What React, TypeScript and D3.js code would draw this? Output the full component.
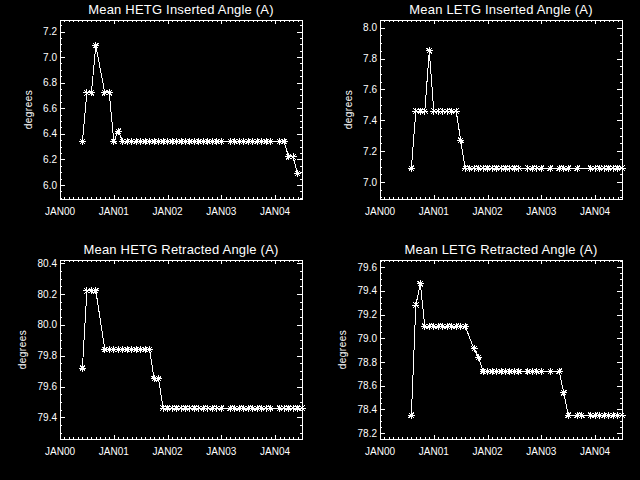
import React from 'react';
import * as d3 from 'd3';

// ---- data (months since JAN 2000, value in degrees) ----
const xTickLabels = ['JAN00', 'JAN01', 'JAN02', 'JAN03', 'JAN04'];
const xMaxYears = 4.5;

const hetgInsMonths = [5, 6, 7, 8, 10, 11, 12, 13, 14, 15, 16, 17, 18, 19, 20, 21, 22, 23, 24, 25, 26, 27, 28, 29, 30, 31, 32, 33, 34, 35, 36, 38, 39, 40, 41, 42, 43, 44, 45, 46, 47, 49, 50, 51, 52, 53];
const hetgInsValues = [6.34, 6.72, 6.72, 7.09, 6.72, 6.72, 6.34, 6.42, 6.34, 6.34, 6.34, 6.34, 6.34, 6.34, 6.34, 6.34, 6.34, 6.34, 6.34, 6.34, 6.34, 6.34, 6.34, 6.34, 6.34, 6.34, 6.34, 6.34, 6.34, 6.34, 6.34, 6.34, 6.34, 6.34, 6.34, 6.34, 6.34, 6.34, 6.34, 6.34, 6.34, 6.34, 6.34, 6.22, 6.22, 6.09];

const letgInsMonths = [7, 8, 9, 10, 11, 12, 13, 14, 15, 16, 17, 18, 19, 20, 21, 22, 23, 24, 25, 26, 27, 28, 29, 30, 31, 33, 34, 35, 36, 38, 40, 41, 42, 44, 47, 48, 49, 50, 51, 52, 53, 54];
const letgInsValues = [7.09, 7.46, 7.46, 7.46, 7.85, 7.46, 7.46, 7.46, 7.46, 7.46, 7.46, 7.27, 7.09, 7.09, 7.09, 7.09, 7.09, 7.09, 7.09, 7.09, 7.09, 7.09, 7.09, 7.09, 7.09, 7.09, 7.09, 7.09, 7.09, 7.09, 7.09, 7.09, 7.09, 7.09, 7.09, 7.09, 7.09, 7.09, 7.09, 7.09, 7.09, 7.09];

const hetgRetMonths = [5, 6, 7, 8, 10, 11, 12, 13, 14, 15, 16, 17, 18, 19, 20, 21, 22, 23, 24, 25, 26, 27, 28, 29, 30, 31, 32, 33, 34, 35, 36, 38, 39, 40, 41, 42, 43, 44, 45, 46, 47, 49, 50, 51, 52, 53, 54];
const hetgRetValues = [79.72, 80.22, 80.22, 80.22, 79.84, 79.84, 79.84, 79.84, 79.84, 79.84, 79.84, 79.84, 79.84, 79.84, 79.84, 79.65, 79.65, 79.46, 79.46, 79.46, 79.46, 79.46, 79.46, 79.46, 79.46, 79.46, 79.46, 79.46, 79.46, 79.46, 79.46, 79.46, 79.46, 79.46, 79.46, 79.46, 79.46, 79.46, 79.46, 79.46, 79.46, 79.46, 79.46, 79.46, 79.46, 79.46, 79.46];

const letgRetMonths = [7, 8, 9, 10, 11, 12, 13, 14, 15, 16, 17, 18, 19, 21, 22, 23, 24, 25, 26, 27, 28, 29, 30, 31, 33, 34, 35, 36, 38, 40, 41, 42, 44, 45, 47, 48, 49, 50, 51, 52, 53, 54];
const letgRetValues = [78.35, 79.28, 79.46, 79.10, 79.10, 79.10, 79.10, 79.10, 79.10, 79.10, 79.10, 79.10, 79.10, 78.91, 78.84, 78.72, 78.72, 78.72, 78.72, 78.72, 78.72, 78.72, 78.72, 78.72, 78.72, 78.72, 78.72, 78.72, 78.72, 78.72, 78.54, 78.35, 78.35, 78.35, 78.35, 78.35, 78.35, 78.35, 78.35, 78.35, 78.35, 78.35];

const titles = ['Mean HETG Inserted Angle (A)', 'Mean LETG Inserted Angle (A)', 'Mean HETG Retracted Angle (A)', 'Mean LETG Retracted Angle (A)'];

const panels = [
  { title: titles[0], months: hetgInsMonths, values: hetgInsValues, ox: 0, oy: 0, ytx: 31.5 },
  { title: titles[1], months: letgInsMonths, values: letgInsValues, ox: 320, oy: 0, ytx: 31.5 },
  { title: titles[2], months: hetgRetMonths, values: hetgRetValues, ox: 0, oy: 240, ytx: 25.5 },
  { title: titles[3], months: letgRetMonths, values: letgRetValues, ox: 320, oy: 240, ytx: 25.5 },
];

const L = 60, R = 302, T = 20, B = 199;
const FONT = '"Liberation Sans", Arial, sans-serif';

function asterisk(x: number, y: number) {
  const r = 3.5, d = 2.6;
  return `M${x - r},${y}H${x + r}M${x},${y - r}V${y + r}M${x - d},${y - d}L${x + d},${y + d}M${x - d},${y + d}L${x + d},${y - d}`;
}

function Panel({ p }: { p: typeof panels[number] }) {
  const [mn, mx] = d3.extent(p.values) as [number, number];
  const x = d3.scaleLinear().domain([0, xMaxYears]).range([L, R]);
  const y = d3.scaleLinear().domain([mn - 0.2, mx + 0.2]).range([B, T]);
  const pts = p.months.map((m, i) => [m / 12, p.values[i]] as [number, number]);
  const line = d3.line<[number, number]>().x(d => x(d[0])).y(d => y(d[1]));

  const [y0, y1] = y.domain();
  const majorY: number[] = [];
  for (let v = Math.ceil(y0 / 0.2 - 1e-6) * 0.2; v <= y1 + 1e-9; v += 0.2) majorY.push(+v.toFixed(2));
  const minorY: number[] = [];
  for (let v = Math.ceil(y0 / 0.05 - 1e-6) * 0.05; v <= y1 + 1e-9; v += 0.05) minorY.push(+v.toFixed(3));
  const monthTicks = d3.range(0, Math.floor(xMaxYears * 12) + 1);

  const xMaj = 3.6, xMin = 1.8, yMaj = 4.8, yMin = 2.4;

  return (
    <g transform={`translate(${p.ox},${p.oy})`}>
      <text x={(L + R) / 2} y={14} fill="white" fontFamily={FONT} fontSize={13} letterSpacing={0.2} textAnchor="middle">{p.title}</text>
      <g stroke="white" strokeWidth={1} shapeRendering="crispEdges" fill="none">
        <rect x={L} y={T} width={R - L} height={B - T} />
        {monthTicks.map(m => {
          const xx = Math.round(x(m / 12)) + 0.5;
          const len = m % 12 === 0 ? xMaj : xMin;
          return (
            <g key={'xm' + m}>
              <line x1={xx} x2={xx} y1={B} y2={B - len} />
              <line x1={xx} x2={xx} y1={T} y2={T + len} />
            </g>
          );
        })}
        {minorY.map(v => {
          const yy = Math.round(y(v)) + 0.5;
          const isMaj = majorY.some(m => Math.abs(m - v) < 1e-6);
          const len = isMaj ? yMaj : yMin;
          return (
            <g key={'ym' + v}>
              <line x1={L} x2={L + len} y1={yy} y2={yy} />
              <line x1={R} x2={R - len} y1={yy} y2={yy} />
            </g>
          );
        })}
      </g>
      {majorY.map(v => (
        <text key={'yl' + v} x={L - 3} y={y(v)} dy="0.36em" fill="white" fontFamily={FONT} fontSize={10} textAnchor="end">{v.toFixed(1)}</text>
      ))}
      {xTickLabels.map((lab, i) => (
        <text key={lab} x={x(i)} y={B + 16} fill="white" fontFamily={FONT} fontSize={10} textAnchor="middle">{lab}</text>
      ))}
      <text transform={`translate(${p.ytx},${(T + B) / 2}) rotate(-90)`} fill="white" fontFamily={FONT} fontSize={10} letterSpacing={0.5} textAnchor="middle">degrees</text>
      <path d={line(pts) || ''} fill="none" stroke="white" strokeWidth={1} shapeRendering="crispEdges" />
      <path d={pts.map(d => asterisk(x(d[0]), y(d[1]))).join('')} fill="none" stroke="white" strokeWidth={1} shapeRendering="crispEdges" />
    </g>
  );
}

export default function App() {
  return (
    <div style={{ position: 'absolute', left: 0, top: 0 }}>
      <svg width={640} height={480} style={{ display: 'block', background: 'black' }}>
        <rect x={0} y={0} width={640} height={480} fill="black" />
        {panels.map((p, i) => <Panel key={i} p={p} />)}
      </svg>
    </div>
  );
}
